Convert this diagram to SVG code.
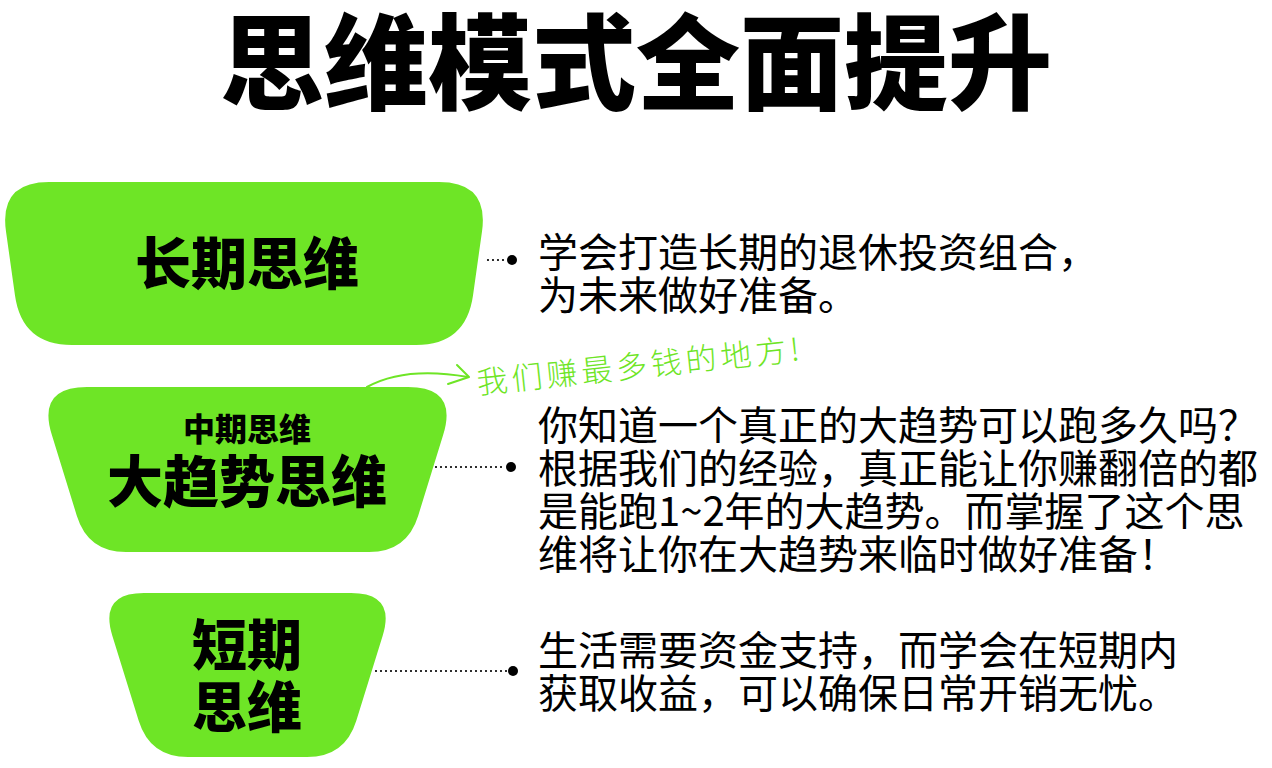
<svg xmlns="http://www.w3.org/2000/svg" width="1272" height="768" viewBox="0 0 1272 768">
  <style>
    .box { fill: #6EE526; }
    .title { font-family: "Noto Sans CJK SC", "Liberation Sans", sans-serif; font-weight: 900; fill: #000; text-anchor: middle; }
    .lbl { font-family: "Noto Sans CJK SC", "Liberation Sans", sans-serif; font-weight: 900; fill: #000; text-anchor: middle; }
    .body { font-family: "Noto Sans CJK SC", "Liberation Sans", sans-serif; font-weight: 400; font-size: 40px; fill: #000; }
    .dots { stroke: #000; stroke-width: 2.2; stroke-linecap: round; stroke-dasharray: 0 5; fill: none; }
    .end { fill: #000; }
    .hand { font-family: "Noto Sans CJK SC", sans-serif; font-weight: 300; font-size: 31px; fill: #6EE526; letter-spacing: 4px; }
    .harrow { stroke: #6EE526; stroke-width: 2; fill: none; stroke-linecap: round; stroke-linejoin: round; }
  </style>
  <rect width="1272" height="768" fill="#ffffff"/>

  <text class="title" x="636" y="102" font-size="104">思维模式全面提升</text>

  <g id="node-long">
    <path class="box" d="M49,182 L439,182 Q489,182 482,231.5 L473,295.5 Q466,345 416,345 L72,345 Q22,345 15,295.5 L6,231.5 Q-1,182 49,182 Z"/>
    <text class="lbl" x="247" y="284" font-size="56">长期思维</text>
  </g>

  <g id="node-mid">
    <path class="box" d="M87,387 L408,387 Q458,387 443.2,434.8 L418.2,515.7 Q407,552 369,552 L126,552 Q88,552 76.8,515.7 L51.8,434.8 Q37,387 87,387 Z"/>
    <text class="lbl" x="247" y="441" font-size="32">中期思维</text>
    <text class="lbl" x="247" y="502" font-size="56">大趋势思维</text>
  </g>

  <g id="node-short">
    <path class="box" d="M144,593 L351,593 Q396,593 382.6,636 L356.3,720.7 Q345,757 307,757 L188,757 Q150,757 138.7,720.7 L112.4,636 Q99,593 144,593 Z"/>
    <text class="lbl" x="247" y="665" font-size="55">短期</text>
    <text class="lbl" x="247" y="727" font-size="55">思维</text>
  </g>

  <g id="connectors">
    <line class="dots" x1="488" y1="260" x2="508" y2="260"/>
    <circle class="end" cx="512" cy="260" r="5"/>
    <line class="dots" x1="436" y1="467" x2="506" y2="467"/>
    <circle class="end" cx="511" cy="467" r="5"/>
    <line class="dots" x1="376" y1="671" x2="508" y2="671"/>
    <circle class="end" cx="513" cy="671" r="5"/>
  </g>

  <g id="desc-long">
    <text class="body" x="538" y="267">学会打造长期的退休投资组合，</text>
    <text class="body" x="538" y="310">为未来做好准备。</text>
  </g>

  <g id="desc-mid">
    <text class="body" x="538" y="440">你知道一个真正的大趋势可以跑多久吗？</text>
    <text class="body" x="538" y="483">根据我们的经验，真正能让你赚翻倍的都</text>
    <text class="body" x="538" y="526">是能跑1~2年的大趋势。而掌握了这个思</text>
    <text class="body" x="538" y="569">维将让你在大趋势来临时做好准备！</text>
  </g>

  <g id="desc-short">
    <text class="body" x="538" y="665">生活需要资金支持，而学会在短期内</text>
    <text class="body" x="538" y="708">获取收益，可以确保日常开销无忧。</text>
  </g>

  <g id="annotation">
    <path class="harrow" d="M367,387 Q405,366 468,377"/>
    <path class="harrow" d="M457,365 L469,377 L448,384"/>
    <text class="hand" x="478" y="394" transform="rotate(-6 478 394)">我们赚最多钱的地方!</text>
  </g>
</svg>
